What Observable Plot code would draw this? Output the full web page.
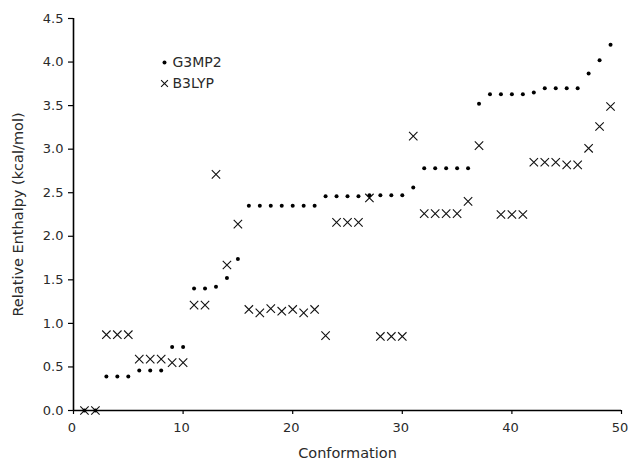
<!DOCTYPE html>
<html>
<head>
<meta charset="utf-8">
<script src="https://cdn.jsdelivr.net/npm/d3@7"></script>
<script src="https://cdn.jsdelivr.net/npm/@observablehq/plot@0.6"></script>
<style>
  html, body { margin: 0; padding: 0; background: #fff; }
  #chart { width: 628px; height: 464px; }
</style>
</head>
<body>
<div id="chart"></div>
<script>
const conformations = [1,2,3,4,5,6,7,8,9,10,11,12,13,14,15,16,17,18,19,20,21,22,23,24,25,26,27,28,29,30,31,32,33,34,35,36,37,38,39,40,41,42,43,44,45,46,47,48,49];
const g3mp2 = [0,0,0.39,0.39,0.39,0.46,0.46,0.46,0.73,0.73,1.40,1.40,1.42,1.52,1.74,2.35,2.35,2.35,2.35,2.35,2.35,2.35,2.46,2.46,2.46,2.46,2.47,2.47,2.47,2.47,2.56,2.78,2.78,2.78,2.78,2.78,3.52,3.63,3.63,3.63,3.63,3.65,3.70,3.70,3.70,3.70,3.87,4.02,4.20];
const b3lyp = [0,0,0.87,0.87,0.87,0.59,0.59,0.59,0.55,0.55,1.21,1.21,2.71,1.67,2.14,1.16,1.12,1.17,1.14,1.16,1.12,1.16,0.86,2.16,2.16,2.16,2.44,0.85,0.85,0.85,3.15,2.26,2.26,2.26,2.26,2.40,3.04,null,2.25,2.25,2.25,2.85,2.85,2.85,2.82,2.82,3.01,3.26,3.49];
const seriesNames = ["G3MP2", "B3LYP"];
const xTicks = [0,10,20,30,40,50];
const yTicks = [0,0.5,1,1.5,2,2.5,3,3.5,4,4.5];
const xTitle = "Conformation";
const yTitle = "Relative Enthalpy (kcal/mol)";

const gData = conformations.map((c, i) => ({c, v: g3mp2[i]}));
const bData = conformations.map((c, i) => ({c, v: b3lyp[i]})).filter(d => d.v !== null);

const font = "Verdana, 'DejaVu Sans', sans-serif";
const textColor = "#2a2a2a";

const chart = Plot.plot({
  width: 628,
  height: 464,
  marginLeft: 73,
  marginRight: 7,
  marginTop: 18,
  marginBottom: 54,
  style: {fontFamily: font, fontSize: "13px", color: textColor, background: "#fff"},
  x: {domain: [0, 50]},
  y: {domain: [0, 4.5]},
  marks: [
    Plot.axisY({ticks: yTicks, tickFormat: d => d.toFixed(1), tickSize: 5, tickPadding: 5, label: null, fontSize: 13, stroke: "#000", strokeWidth: 1.2}),
    Plot.axisX({ticks: xTicks, text: null, tickSize: 4, label: null, stroke: "#000", strokeWidth: 1.2}),
    Plot.axisX({ticks: xTicks, tickSize: 0, tickPadding: 12, dx: -1.5, label: null, fontSize: 13}),
    Plot.ruleX([0], {stroke: "#000", strokeWidth: 1.6}),
    Plot.ruleY([0], {stroke: "#000", strokeWidth: 1.6}),
    Plot.dot(bData, {x: "c", y: "v", symbol: "times", r: 3.9, stroke: "#111", strokeWidth: 1.1}),
    Plot.dot(gData, {x: "c", y: "v", r: 2, fill: "#000", stroke: null}),
    Plot.text([xTitle], {frameAnchor: "bottom", dy: 47, text: d => d, fontSize: 14.5, fill: textColor}),
    Plot.text([yTitle], {frameAnchor: "left", dx: -55, rotate: -90, textAnchor: "middle", text: d => d, fontSize: 14.5, fill: textColor}),
    Plot.dot([seriesNames[0]], {frameAnchor: "top-left", dx: 91, dy: 44, r: 2, fill: "#000", stroke: null}),
    Plot.dot([seriesNames[1]], {frameAnchor: "top-left", dx: 91, dy: 65, symbol: "times", r: 3.2, stroke: "#111", strokeWidth: 1.1}),
    Plot.text([seriesNames[0]], {frameAnchor: "top-left", dx: 99, dy: 44, lineAnchor: "middle", text: d => d, textAnchor: "start", fontSize: 14, fill: textColor}),
    Plot.text([seriesNames[1]], {frameAnchor: "top-left", dx: 99, dy: 65, lineAnchor: "middle", text: d => d, textAnchor: "start", fontSize: 14, fill: textColor})
  ]
});
document.getElementById("chart").appendChild(chart);
</script>
</body>
</html>
